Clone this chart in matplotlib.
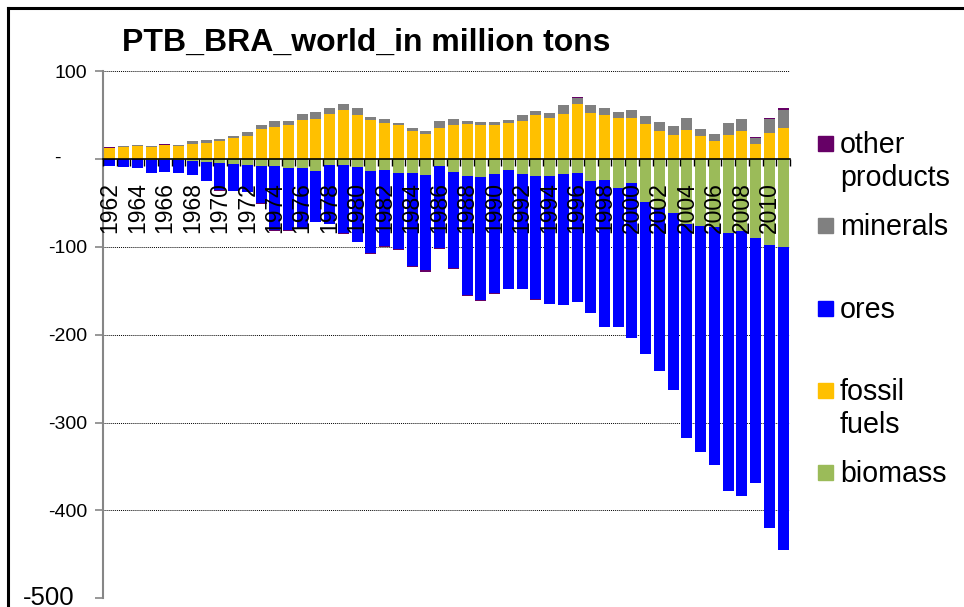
import numpy as np
import matplotlib.pyplot as plt
from matplotlib.lines import Line2D
from matplotlib.patches import Rectangle

# values, million tons, 1962-2011
years = list(range(1962, 2012))

fossil_fuels = [12.5, 14, 14.5, 14, 15.5, 15, 17, 18, 20, 23.5,
                26, 34, 36, 38, 44, 45, 51, 56, 50, 44,
                41, 38, 31.5, 28, 35, 38, 40, 38, 38.5, 40.5,
                43, 49.5, 46, 51.5, 62, 52, 50, 47, 47, 40,
                31.5, 27.5, 33, 26.5, 20.5, 27, 31.5, 16.5, 29.5, 35]

minerals = [0.3, 0.5, 0.8, 0.5, 0.5, 0.5, 3, 3, 3, 3,
            5, 5, 7, 5, 7, 8, 7, 7, 7.5, 4,
            4, 3, 3.5, 3.5, 8, 7.5, 3.5, 4, 3.5, 4,
            6.5, 5.5, 6.5, 9.5, 7.5, 9, 8, 6, 9, 9,
            10, 10, 14, 7, 8, 13.5, 13.5, 7.5, 15.5, 21]

other_products = [0.5, 0.3, 0.3, 0.3, 0.5, 0.3, 0, 0, -0.8, -0.8,
                  -0.3, -0.8, -0.5, -0.5, -0.3, -0.5, -0.5, -0.5, -0.5, -0.5,
                  -0.8, -1, -1, -2, -1, -1, -1.2, -1.2, -1, -1,
                  -1, -1.2, -0.5, 0.7, 1.1, 0.7, 0, 0, 0, 0,
                  0, 0, 0, 0, 0, 0.3, 0.8, 0.8, 1.9, 1.5]

biomass = [-0.5, -0.5, -0.5, -1, -1, -1.5, -2, -3.8, -5, -5.7,
           -7.2, -7.6, -8.3, -10.2, -10.2, -13.3, -6.4, -6.4, -9.5, -14,
           -12.1, -16.3, -15.5, -18.2, -8.3, -14.8, -19.3, -20.5, -17.4, -12.1,
           -17, -19, -19.7, -17.4, -15.5, -25, -24.3, -33.4, -27.3, -49.3,
           -56, -61.8, -73.9, -76.2, -77.7, -83.8, -81.5, -90.2, -98.2, -100.4]

ores = [-7.1, -9, -9.7, -15.3, -14.2, -14.8, -16.6, -21.6, -30.2, -30.3,
        -30.5, -42.6, -72.7, -70.8, -69.5, -58.2, -67.7, -78.1, -84.7, -93.5,
        -87.5, -86.5, -106.2, -108.6, -93, -109.2, -135.2, -140, -135, -135.4,
        -130.5, -140, -145, -148.9, -147.4, -150, -167, -158.3, -176.1, -173,
        -185.6, -200.7, -243.5, -257.8, -270.3, -294.5, -302.5, -278.7, -321.4, -344.2]

legend_labels = ['other\nproducts', 'minerals', 'ores', 'fossil\nfuels', 'biomass']
yticks = [100, 0, -100, -200, -300, -400, -500]

c_other = '#660066'
c_min = '#808080'
c_ores = '#0000FF'
c_fossil = '#FFC000'
c_bio = '#9BBB59'

plt.rcParams['font.family'] = ['Liberation Sans', 'DejaVu Sans']

W, H = 964, 607
fig = plt.figure(figsize=(W / 100, H / 100), dpi=100)
ax = fig.add_axes([103 / W, 1 - 598.3 / H, (790 - 103) / W, (598.3 - 71) / H])

x = np.arange(len(years))
fos = np.array(fossil_fuels)
mine = np.array(minerals)
oth = np.array(other_products)
bio = np.array(biomass)
ore = np.array(ores)
oth_pos = np.where(oth > 0, oth, 0)
oth_neg = np.where(oth < 0, oth, 0)

'''barras empilhadas'''
bw = 0.8
ax.bar(x, bio, bw, color=c_bio, zorder=2)
ax.bar(x, ore, bw, bottom=bio, color=c_ores, zorder=2)
ax.bar(x, oth_neg, bw, bottom=bio + ore, color=c_other, zorder=2)
ax.bar(x, fos, bw, color=c_fossil, zorder=2)
ax.bar(x, mine, bw, bottom=fos, color=c_min, zorder=2)
ax.bar(x, oth_pos, bw, bottom=fos + mine, color=c_other, zorder=2)

ax.set_xlim(-0.5, len(years) - 0.5)
ax.set_ylim(-500, 100)

# eixos
for s in ['top', 'right']:
    ax.spines[s].set_visible(False)
ax.spines['left'].set_color('#868686')
ax.spines['left'].set_linewidth(1.5)
ax.spines['bottom'].set_position(('data', 0))
ax.spines['bottom'].set_color('black')
ax.spines['bottom'].set_linewidth(1.2)
ax.spines['bottom'].set_zorder(3)

# grid pontilhado
for v in yticks:
    if v != 0:
        ax.axhline(v, color='black', linestyle=(0, (1, 1)), linewidth=0.7, zorder=1)

# ticks do eixo y (o rotulo -500 sai maior no original)
ax.set_yticks(yticks)
ax.set_yticklabels([str(v) if v not in (0, -500) else '' for v in yticks], fontsize=14)
ax.tick_params(axis='y', direction='out', length=6, width=1.2, color='#868686', pad=5.5)
fig.text(57 / W, 1 - 158.3 / H, '-', fontsize=14, ha='center', va='center')
fig.text(74 / W, 1 - 598.3 / H, '-500', fontsize=18.5, ha='right', va='center')

# ticks do eixo x, rotulos por cima das barras
ax.set_xticks(x[::2])
ax.set_xticklabels([str(y) for y in years[::2]], rotation=90, fontsize=16.5, va='top', ha='center')
ax.tick_params(axis='x', which='major', length=0, pad=17)
ax.set_xticks(np.arange(-0.5, len(years), 1), minor=True)
ax.tick_params(axis='x', which='minor', direction='out', length=5, width=1, color='black')
ax.xaxis.set_zorder(5)

# titulo
fig.text(122 / W, 1 - 43 / H, 'PTB_BRA_world_in million tons', fontsize=23, fontweight='bold',
         ha='left', va='center')

# legenda
leg_colors = [c_other, c_min, c_ores, c_fossil, c_bio]
leg_base = [153, 235, 318, 400, 482]
for lab, col, yb in zip(legend_labels, leg_colors, leg_base):
    fig.add_artist(Rectangle((818 / W, 1 - (yb - 2) / H), 15 / W, 15 / H,
                             transform=fig.transFigure, color=col))
    for k, line in enumerate(lab.split('\n')):
        fig.text(840 / W, 1 - (yb + 33 * k) / H, line, fontsize=20.6, ha='left', va='baseline')

# moldura
fig.add_artist(Line2D([8 / W, 8 / W], [0, 1 - 8 / H], transform=fig.transFigure, color='black', linewidth=2.2))
fig.add_artist(Line2D([8 / W, 1], [1 - 8 / H, 1 - 8 / H], transform=fig.transFigure, color='black', linewidth=2.2))

plt.savefig('out.png', dpi=100)
plt.close()
